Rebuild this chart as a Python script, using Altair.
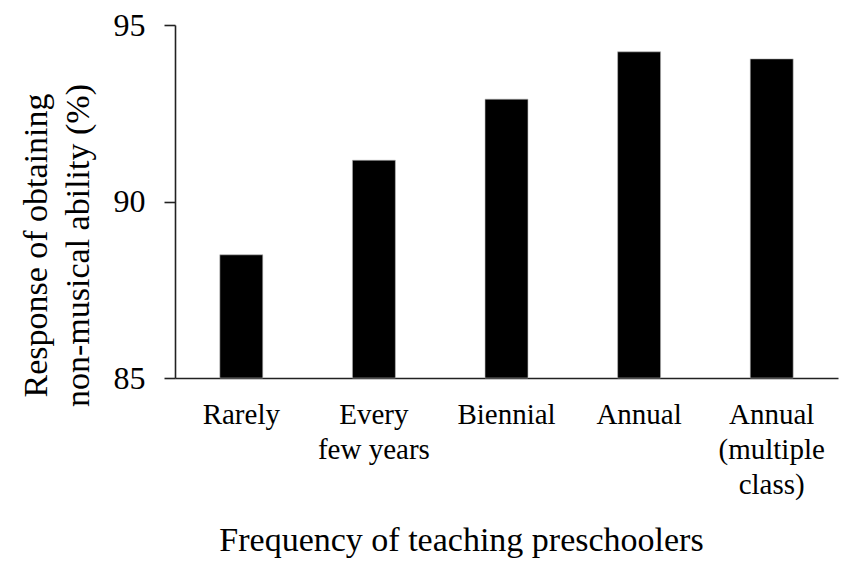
import altair as alt
import pandas as pd

categories = ["Rarely", "Every|few years", "Biennial", "Annual", "Annual|(multiple|class)"]
values = [88.49, 91.17, 92.90, 94.24, 94.04]
y_ticks = [85, 90, 95]

df = pd.DataFrame({"cat": categories, "val": values})

FONT = "Liberation Serif"

chart = alt.Chart(df).mark_bar(color="black", stroke="#bbbbbb", strokeWidth=0.6).encode(
    x=alt.X(
        "cat:N",
        sort=categories,
        scale=alt.Scale(paddingInner=0.676, paddingOuter=0.338),
        axis=alt.Axis(
            title="Frequency of teaching preschoolers",
            labelExpr="split(datum.value, '|')",
            labelAngle=0,
            labelBaseline="alphabetic",
            labelPadding=45,
            labelLineHeight=35,
            labelFontSize=29,
            labelFont=FONT,
            labelColor="black",
            ticks=False,
            tickSize=0,
            domainColor="#222222",
            domainWidth=1.6,
            titleFont=FONT,
            titleFontSize=34,
            titleFontWeight="normal",
            titleColor="black",
            titleAnchor="start",
            titleAlign="center",
            titleBaseline="alphabetic",
            titleX=286,
            titleY=172,
        ),
    ),
    y=alt.Y(
        "val:Q",
        scale=alt.Scale(domain=[85, 95], zero=False, nice=False),
        axis=alt.Axis(
            title=["Response of obtaining", "non-musical ability (%)"],
            values=y_ticks,
            grid=False,
            tickSize=11,
            tickColor="#222222",
            tickWidth=1.6,
            domainColor="#222222",
            domainWidth=1.6,
            labelPadding=19,
            labelFontSize=32,
            labelFont=FONT,
            labelColor="black",
            titleFont=FONT,
            titleFontSize=34,
            titleFontWeight="normal",
            titleColor="black",
            titleLineHeight=42,
            titleAngle=270,
            titleAlign="center",
            titleBaseline="alphabetic",
            titleX=-129,
            titleY=220,
        ),
    ),
    y2=alt.datum(85),
).properties(
    width=663,
    height=353,
    autosize=alt.AutoSizeParams(type="none"),
    padding={"left": 167, "top": 17, "right": 5, "bottom": 188},
).configure_view(stroke=None)

chart.save("out.html", embed_options={"renderer": "svg", "actions": False})
